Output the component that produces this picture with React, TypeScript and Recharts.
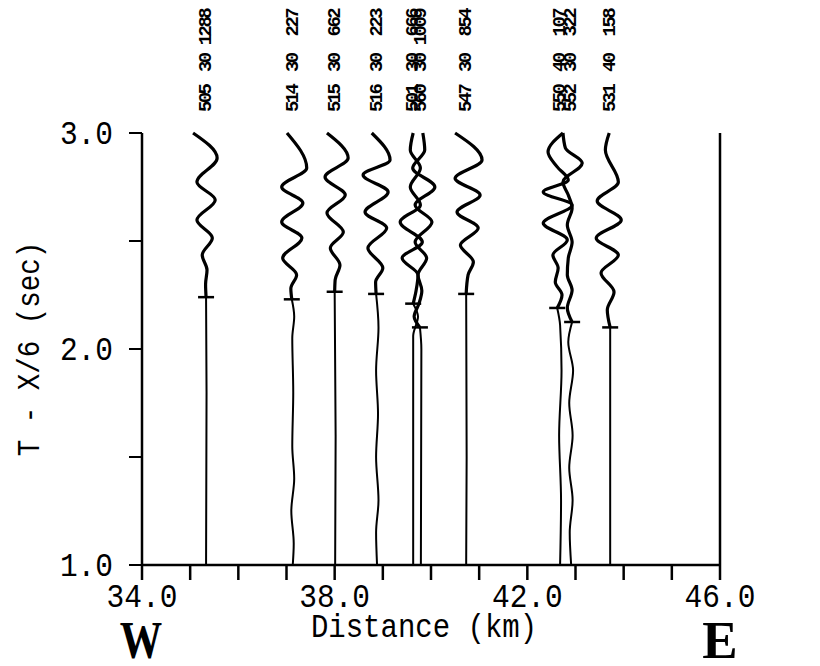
import React from 'react';
import { ScatterChart, Scatter, XAxis, YAxis, Label } from 'recharts';

// station header labels (station, component, amplitude)
const STATIONS = ['505', '514', '515', '516', '501', '560', '547', '550', '552', '531'];
const COMPONENTS = ['30', '30', '30', '30', '30', '30', '30', '40', '30', '40'];
const AMPLITUDES = ['1288', '227', '662', '223', '666', '1009', '854', '107', '322', '158'];

// station distance (km) and picked arrival (sec)
const DISTANCES = [35.33, 37.13, 38.01, 38.88, 39.63, 39.79, 40.73, 42.68, 42.91, 43.72];
const PICKS = [2.24, 2.23, 2.265, 2.255, 2.21, 2.1, 2.255, 2.19, 2.125, 2.1];

// [time (sec), deflection from station (km)]
const W505 = [[3.0, -0.27], [2.884, 0.23], [2.773, -0.19], [2.69, 0.19], [2.597, -0.19], [2.514, 0.13], [2.435, -0.08], [2.366, 0.02], [2.3, -0.01], [2.24, 0], [1.8, 0.01], [1.0, 0]];
const W514 = [[3.0, -0.12], [2.838, 0.29], [2.75, -0.23], [2.676, 0.21], [2.588, -0.23], [2.514, 0.19], [2.421, -0.21], [2.343, 0.08], [2.28, -0.04], [2.23, -0.02], [2.15, 0.03], [2.05, -0.01], [1.8, 0.01], [1.55, -0.01], [1.4, 0.03], [1.25, -0.03], [1.1, 0.02], [1.0, 0]];
const W515 = [[3.0, -0.17], [2.884, 0.27], [2.796, -0.21], [2.713, 0.21], [2.63, -0.17], [2.542, 0.17], [2.468, -0.1], [2.389, 0.1], [2.32, 0.0], [2.265, -0.01], [1.6, 0.01], [1.0, 0]];
const W516 = [[3.0, -0.11], [2.875, 0.27], [2.806, -0.29], [2.727, 0.23], [2.634, -0.25], [2.56, 0.2], [2.468, -0.19], [2.375, 0.12], [2.31, -0.03], [2.255, -0.02], [2.1, 0.03], [1.9, -0.02], [1.7, 0.02], [1.5, -0.02], [1.3, 0.03], [1.15, -0.02], [1.0, 0]];
const W501 = [[3.0, 0], [2.921, -0.06], [2.838, 0.15], [2.75, -0.06], [2.667, 0.15], [2.588, -0.27], [2.495, 0.19], [2.421, -0.23], [2.343, 0.1], [2.27, 0.06], [2.21, 0.0], [2.15, 0.1], [2.06, 0.0], [1.0, 0]];
const W560 = [[3.0, 0.04], [2.921, 0.08], [2.838, -0.17], [2.75, 0.29], [2.667, -0.12], [2.588, 0.23], [2.495, -0.12], [2.421, 0.12], [2.343, -0.06], [2.27, 0.02], [2.21, -0.04], [2.15, -0.14], [2.1, -0.02], [2.0, 0.01], [1.0, 0]];
const W547 = [[3.0, -0.23], [2.875, 0.33], [2.79, -0.23], [2.713, 0.29], [2.634, -0.19], [2.56, 0.25], [2.481, -0.12], [2.403, 0.15], [2.343, 0.04], [2.255, 0], [1.5, 0.01], [1.0, 0]];
const W550 = [[3.0, 0.06], [2.912, -0.25], [2.843, -0.06], [2.782, 0.17], [2.727, -0.35], [2.667, 0.25], [2.583, -0.35], [2.505, 0.15], [2.435, -0.15], [2.375, -0.04], [2.31, -0.1], [2.25, 0.04], [2.19, -0.06], [2.111, 0], [1.9, 0.03], [1.6, -0.02], [1.3, 0.02], [1.0, 0]];
const W552 = [[3.0, -0.17], [2.931, -0.12], [2.861, 0.23], [2.773, -0.17], [2.713, -0.06], [2.653, 0.02], [2.574, -0.08], [2.495, 0.02], [2.421, -0.06], [2.343, -0.08], [2.273, 0.02], [2.19, -0.08], [2.125, 0.02], [2.032, -0.06], [1.9, 0.04], [1.75, -0.04], [1.6, 0.03], [1.45, -0.04], [1.3, 0.03], [1.15, -0.03], [1.0, 0]];
const W531 = [[3.0, -0.02], [2.921, -0.1], [2.773, 0.17], [2.685, -0.27], [2.597, 0.23], [2.514, -0.29], [2.435, 0.17], [2.352, -0.19], [2.264, 0.08], [2.181, -0.06], [2.1, 0], [1.0, 0]];
const WIGGLES = [W505, W514, W515, W516, W501, W560, W547, W550, W552, W531];

const X_TICKS = [34, 35, 36, 37, 38, 39, 40, 41, 42, 43, 44, 45, 46];
const X_LABELS = [34, 38, 42, 46];
const Y_TICKS = [1, 1.5, 2, 2.5, 3];

const MONO = "'Liberation Mono', 'DejaVu Sans Mono', monospace";
const SERIF = "'Liberation Serif', 'DejaVu Serif', serif";

const traces = WIGGLES.map((w, i) => {
  const pts = w.map(([t, dx]) => ({ x: DISTANCES[i] + dx, y: t }));
  return {
    upper: pts.filter((p) => p.y >= PICKS[i]),
    lower: pts.filter((p) => p.y <= PICKS[i]),
  };
});

const picks = PICKS.map((t, i) => {
  const hit = WIGGLES[i].find((p) => p[0] === t);
  return { x: DISTANCES[i] + (hit ? hit[1] : 0), y: t };
});

const headers = STATIONS.map((s, i) => ({ x: DISTANCES[i], y: 3, i }));
const kmTicks = X_TICKS.map((v) => ({ x: v, y: 1 }));

const NoDot = () => <g />;

const PickMark = (props: any) => {
  const { cx, cy } = props;
  return <line x1={cx - 8} x2={cx + 8} y1={cy} y2={cy} stroke="#000" strokeWidth={2.5} />;
};

// downward tick under the distance axis
const KmTick = (props: any) => {
  const { cx, cy } = props;
  return <line x1={cx} x2={cx} y1={cy} y2={cy + 15} stroke="#000" strokeWidth={2.5} />;
};

// tall, narrow plotter-style numerals
const PlotText = ({ x, y, anchor, size, children }: any) => (
  <text
    transform={`translate(${x},${y}) scale(1,1.13)`}
    textAnchor={anchor}
    fontFamily={MONO}
    fontSize={size}
    fill="#000"
  >
    {children}
  </text>
);

const XTick = (props: any) => (
  <PlotText x={props.x} y={props.y + 42} anchor="middle" size={29.5}>
    {props.payload.value.toFixed(1)}
  </PlotText>
);

const YTickLeft = (props: any) =>
  Number.isInteger(props.payload.value) ? (
    <PlotText x={props.x} y={props.y + 11} anchor="end" size={29.5}>
      {props.payload.value.toFixed(1)}
    </PlotText>
  ) : (
    <g />
  );

const YTickRight = (props: any) =>
  Number.isInteger(props.payload.value) ? (
    <PlotText x={props.x} y={props.y + 11} anchor="start" size={29.5}>
      {props.payload.value.toFixed(1)}
    </PlotText>
  ) : (
    <g />
  );

const HeaderLabel = (props: any) => {
  const { cx, cy, payload } = props;
  const i = payload.i;
  const style = { fontFamily: MONO, fontSize: 19, fontWeight: 700, letterSpacing: -2.6 };
  return (
    <g fill="#000" style={style}>
      <text transform={`translate(${cx},${cy - 21}) rotate(-90)`} textAnchor="start" dominantBaseline="central">
        {STATIONS[i]}
      </text>
      <text transform={`translate(${cx},${cy - 61}) rotate(-90)`} textAnchor="start" dominantBaseline="central">
        {COMPONENTS[i]}
      </text>
      <text transform={`translate(${cx},${cy - 123}) rotate(-90)`} textAnchor="end" dominantBaseline="central">
        {AMPLITUDES[i]}
      </text>
    </g>
  );
};

const YTitle = (props: any) => {
  const { x, y, width, height } = props.viewBox;
  const cx = x + width - 103;
  const cy = y + height / 2;
  return (
    <text
      transform={`translate(${cx},${cy}) rotate(-90) scale(1,1.13)`}
      textAnchor="middle"
      fontFamily={MONO}
      fontSize={27.5}
      fill="#000"
    >
      T - X/6 (sec)
    </text>
  );
};

const XTitle = (props: any) => {
  const { x, y, width } = props.viewBox;
  return (
    <g fill="#000">
      <PlotText x={x + width / 2 - 7} y={y + 72} anchor="middle" size={29}>
        Distance (km)
      </PlotText>
      <text
        transform={`translate(${x - 1},${y + 93}) scale(0.8,1)`}
        textAnchor="middle"
        fontFamily={SERIF}
        fontWeight={700}
        fontSize={53}
      >
        W
      </text>
      <text x={x + width} y={y + 93} textAnchor="middle" fontFamily={SERIF} fontWeight={700} fontSize={53}>
        E
      </text>
    </g>
  );
};

const axisLine = { stroke: '#000', strokeWidth: 2.5 };
const tickLine = { stroke: '#000', strokeWidth: 2 };

export default function App() {
  return (
    <div style={{ width: 820, height: 666, background: '#fff' }}>
      <style>{'body{margin:0;background:#fff}'}</style>
      <ScatterChart width={820} height={666} margin={{ top: 133, right: 20, bottom: 21, left: 62 }}>
        <XAxis
          type="number"
          dataKey="x"
          domain={[34, 46]}
          ticks={X_LABELS}
          interval={0}
          tickSize={0}
          tickMargin={0}
          height={80}
          axisLine={axisLine}
          tickLine={false}
          tick={XTick}
        >
          <Label content={XTitle} />
        </XAxis>
        <YAxis
          yAxisId="left"
          type="number"
          dataKey="y"
          domain={[1, 3]}
          ticks={Y_TICKS}
          interval={0}
          width={80}
          tickSize={13}
          tickMargin={16}
          axisLine={axisLine}
          tickLine={tickLine}
          tick={YTickLeft}
        >
          <Label content={YTitle} />
        </YAxis>
        <YAxis
          yAxisId="right"
          orientation="right"
          type="number"
          dataKey="y"
          domain={[1, 3]}
          ticks={Y_TICKS}
          interval={0}
          width={80}
          tickSize={13}
          tickMargin={10}
          axisLine={axisLine}
          tickLine={tickLine}
          tick={YTickRight}
        />
        {traces.map((tr, i) => (
          <Scatter
            key={`lo-${i}`}
            yAxisId="left"
            data={tr.lower}
            line={{ stroke: '#000', strokeWidth: 2 }}
            lineJointType="monotoneY"
            shape={NoDot}
            isAnimationActive={false}
          />
        ))}
        {traces.map((tr, i) => (
          <Scatter
            key={`up-${i}`}
            yAxisId="left"
            data={tr.upper}
            line={{ stroke: '#000', strokeWidth: 3.2 }}
            lineJointType="monotoneY"
            shape={NoDot}
            isAnimationActive={false}
          />
        ))}
        <Scatter yAxisId="left" data={picks} shape={PickMark} isAnimationActive={false} />
        <Scatter yAxisId="left" data={kmTicks} shape={KmTick} isAnimationActive={false} />
        <Scatter yAxisId="left" data={headers} shape={HeaderLabel} isAnimationActive={false} />
        <Scatter yAxisId="right" data={[]} shape={NoDot} isAnimationActive={false} />
      </ScatterChart>
    </div>
  );
}
